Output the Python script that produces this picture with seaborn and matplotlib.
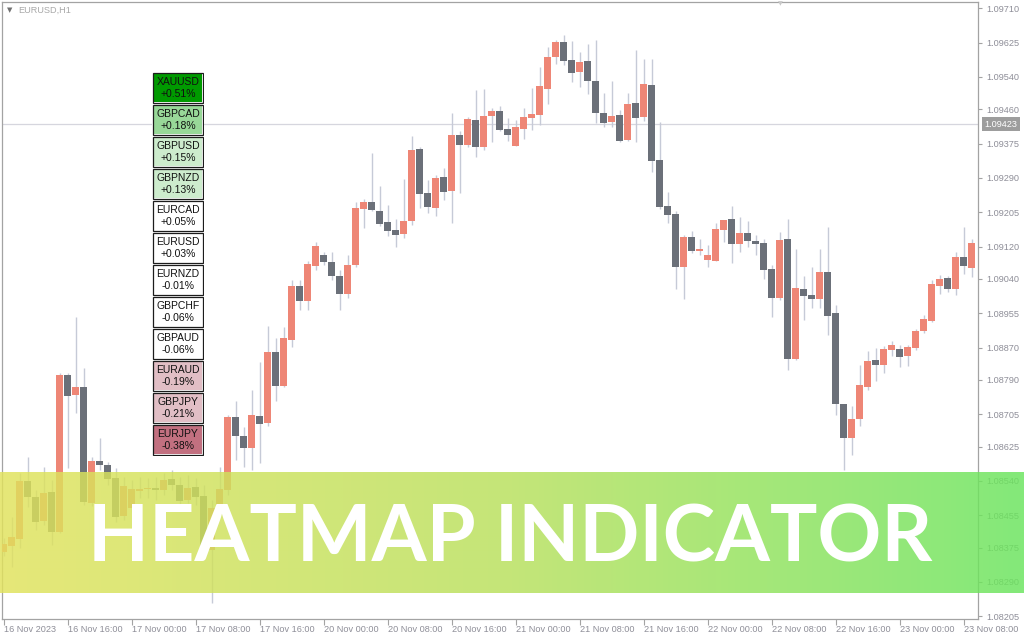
import numpy as np
import matplotlib
matplotlib.use("Agg")
import matplotlib.pyplot as plt
import seaborn as sns
from matplotlib.colors import ListedColormap, LinearSegmentedColormap
from matplotlib.patches import Rectangle
from matplotlib.transforms import blended_transform_factory

# ---------------- data (EURUSD, H1) ----------------
opens = [1.08364, 1.08379, 1.08396, 1.08540, 1.08500, 1.08441, 1.08512, 1.08413, 1.08802, 1.08753,
         1.08772, 1.08485, 1.08589, 1.08579, 1.08547, 1.08453, 1.08473, 1.08515, 1.08520, 1.08522,
         1.08517, 1.08545, 1.08530, 1.08493, 1.08525, 1.08503, 1.08369, 1.08473, 1.08517, 1.08698,
         1.08651, 1.08621, 1.08701, 1.08683, 1.08859, 1.08775, 1.08889, 1.09023, 1.08985, 1.09072,
         1.09099, 1.09082, 1.09047, 1.09003, 1.09075, 1.09213, 1.09230, 1.09208, 1.09181, 1.09161,
         1.09151, 1.09183, 1.09362, 1.09253, 1.09216, 1.09292, 1.09258, 1.09396, 1.09372, 1.09434,
         1.09367, 1.09443, 1.09456, 1.09411, 1.09369, 1.09411, 1.09438, 1.09446, 1.09510, 1.09590,
         1.09627, 1.09582, 1.09552, 1.09580, 1.09530, 1.09451, 1.09429, 1.09446, 1.09384, 1.09476,
         1.09441, 1.09520, 1.09334, 1.09221, 1.09201, 1.09070, 1.09144, 1.09109, 1.09087, 1.09084,
         1.09161, 1.09188, 1.09127, 1.09154, 1.09134, 1.09129, 1.09065, 1.08993, 1.09139, 1.08842,
         1.09015, 1.09000, 1.08990, 1.09057, 1.08956, 1.08730, 1.08646, 1.08693, 1.08772, 1.08839,
         1.08827, 1.08864, 1.08867, 1.08849, 1.08869, 1.08911, 1.08936, 1.09023, 1.09042, 1.09015,
         1.09094, 1.09067]
closes = [1.08384, 1.08401, 1.08540, 1.08500, 1.08438, 1.08510, 1.08413, 1.08802, 1.08750, 1.08772,
          1.08488, 1.08589, 1.08579, 1.08545, 1.08450, 1.08527, 1.08520, 1.08520, 1.08522, 1.08517,
          1.08542, 1.08530, 1.08490, 1.08522, 1.08500, 1.08369, 1.08473, 1.08520, 1.08698, 1.08651,
          1.08621, 1.08703, 1.08681, 1.08859, 1.08775, 1.08894, 1.09023, 1.08985, 1.09077, 1.09122,
          1.09082, 1.09047, 1.09003, 1.09075, 1.09216, 1.09230, 1.09211, 1.09176, 1.09159, 1.09149,
          1.09183, 1.09359, 1.09250, 1.09218, 1.09290, 1.09255, 1.09396, 1.09372, 1.09436, 1.09367,
          1.09443, 1.09456, 1.09409, 1.09396, 1.09416, 1.09441, 1.09448, 1.09518, 1.09590, 1.09627,
          1.09580, 1.09550, 1.09577, 1.09530, 1.09451, 1.09426, 1.09443, 1.09382, 1.09473, 1.09438,
          1.09523, 1.09332, 1.09218, 1.09198, 1.09070, 1.09144, 1.09109, 1.09114, 1.09099, 1.09164,
          1.09186, 1.09127, 1.09154, 1.09134, 1.09127, 1.09062, 1.08993, 1.09136, 1.08842, 1.09018,
          1.08998, 1.08990, 1.09057, 1.08948, 1.08730, 1.08646, 1.08693, 1.08777, 1.08837, 1.08827,
          1.08867, 1.08876, 1.08847, 1.08871, 1.08911, 1.08941, 1.09027, 1.09040, 1.09015, 1.09094,
          1.09072, 1.09129]
highs = [1.08398, 1.08450, 1.08560, 1.08599, 1.08517, 1.08574, 1.08542, 1.08807, 1.08807, 1.08946,
         1.08819, 1.08599, 1.08646, 1.08587, 1.08572, 1.08550, 1.08542, 1.08550, 1.08547, 1.08550,
         1.08560, 1.08567, 1.08550, 1.08555, 1.08547, 1.08530, 1.08493, 1.08574, 1.08703, 1.08738,
         1.08673, 1.08765, 1.08834, 1.08923, 1.08894, 1.08921, 1.09037, 1.09037, 1.09084, 1.09131,
         1.09107, 1.09107, 1.09062, 1.09099, 1.09230, 1.09238, 1.09352, 1.09270, 1.09223, 1.09188,
         1.09287, 1.09394, 1.09367, 1.09285, 1.09297, 1.09315, 1.09451, 1.09406, 1.09441, 1.09508,
         1.09510, 1.09463, 1.09468, 1.09438, 1.09434, 1.09463, 1.09513, 1.09565, 1.09614, 1.09632,
         1.09644, 1.09629, 1.09602, 1.09622, 1.09632, 1.09500, 1.09530, 1.09458, 1.09500, 1.09607,
         1.09585, 1.09585, 1.09429, 1.09255, 1.09208, 1.09149, 1.09159, 1.09139, 1.09124, 1.09179,
         1.09186, 1.09221, 1.09193, 1.09183, 1.09149, 1.09139, 1.09075, 1.09156, 1.09188, 1.09114,
         1.09047, 1.09070, 1.09114, 1.09169, 1.08975, 1.08730, 1.08725, 1.08827, 1.08862, 1.08869,
         1.08874, 1.08886, 1.08876, 1.08876, 1.08916, 1.08951, 1.09037, 1.09050, 1.09047, 1.09107,
         1.09169, 1.09139]
lows = [1.08354, 1.08327, 1.08374, 1.08475, 1.08418, 1.08431, 1.08381, 1.08411, 1.08572, 1.08708,
        1.08480, 1.08478, 1.08567, 1.08530, 1.08438, 1.08443, 1.08463, 1.08498, 1.08498, 1.08493,
        1.08505, 1.08517, 1.08475, 1.08485, 1.08480, 1.08344, 1.08238, 1.08463, 1.08505, 1.08592,
        1.08574, 1.08567, 1.08584, 1.08676, 1.08738, 1.08772, 1.08871, 1.08963, 1.08963, 1.09062,
        1.09075, 1.09037, 1.08963, 1.08993, 1.09070, 1.09166, 1.09208, 1.09171, 1.09146, 1.09119,
        1.09141, 1.09174, 1.09216, 1.09203, 1.09196, 1.09235, 1.09179, 1.09253, 1.09367, 1.09342,
        1.09359, 1.09379, 1.09407, 1.09382, 1.09369, 1.09386, 1.09409, 1.09421, 1.09473, 1.09572,
        1.09570, 1.09528, 1.09515, 1.09498, 1.09426, 1.09416, 1.09416, 1.09379, 1.09382, 1.09379,
        1.09431, 1.09305, 1.09213, 1.09179, 1.09015, 1.08990, 1.09104, 1.09099, 1.09070, 1.09084,
        1.09131, 1.09079, 1.09107, 1.09119, 1.09099, 1.09040, 1.08946, 1.08988, 1.08815, 1.08839,
        1.08938, 1.08968, 1.08968, 1.08901, 1.08703, 1.08567, 1.08604, 1.08676, 1.08765, 1.08787,
        1.08807, 1.08849, 1.08822, 1.08824, 1.08864, 1.08906, 1.08933, 1.09003, 1.09008, 1.09000,
        1.09052, 1.09045]

time_labels = ["16 Nov 2023", "16 Nov 16:00", "17 Nov 00:00", "17 Nov 08:00", "17 Nov 16:00",
               "20 Nov 00:00", "20 Nov 08:00", "20 Nov 16:00", "21 Nov 00:00", "21 Nov 08:00",
               "21 Nov 16:00", "22 Nov 00:00", "22 Nov 08:00", "22 Nov 16:00", "23 Nov 00:00",
               "23 Nov 08:00"]
price_ticks = [1.09710, 1.09625, 1.09540, 1.09460, 1.09375, 1.09290, 1.09205, 1.09120, 1.09040,
               1.08955, 1.08870, 1.08790, 1.08705, 1.08625, 1.08540, 1.08455, 1.08375, 1.08290,
               1.08205]
current_price = 1.09423
chart_title = "EURUSD,H1"

heat_symbols = ["XAUUSD", "GBPCAD", "GBPUSD", "GBPNZD", "EURCAD", "EURUSD",
                "EURNZD", "GBPCHF", "GBPAUD", "EURAUD", "GBPJPY", "EURJPY"]
heat_changes = [0.51, 0.18, 0.15, 0.13, 0.05, 0.03, -0.01, -0.06, -0.06, -0.19, -0.21, -0.38]
heat_colors = ["#009a00", "#98d898", "#cdeccd", "#cdeccd", "#ffffff", "#ffffff",
               "#ffffff", "#ffffff", "#ffffff", "#e1bec5", "#e1bec5", "#c27080"]
banner_text = "HEATMAP INDICATOR"

# ---------------- style ----------------
sns.set_theme(style="white")
plt.rcParams["font.family"] = ["Liberation Sans", "DejaVu Sans"]

W, H = 1024, 640
fig = plt.figure(figsize=(W / 100, H / 100), dpi=100)
fig.patch.set_facecolor("white")

def fx(px):
    return px / W

def fy(py):
    return 1 - py / H

# main chart axes: pixel x 2..978, y 2..619
ax = fig.add_axes([fx(2), fy(619), fx(976), (619 - 2) / H])
ax.set_facecolor("white")

x = np.arange(len(opens))
o = np.array(opens); c = np.array(closes); hi = np.array(highs); lo = np.array(lows)
up = c >= o
bull_col, bear_col, wick_col = "#ee8676", "#6b7079", "#c6cad7"

ax.vlines(x, lo, hi, color=wick_col, lw=1.0, zorder=2)
body_bottom = np.minimum(o, c)
body_h = np.maximum(np.abs(c - o), 0.000025)
ax.bar(x, body_h, bottom=body_bottom, width=0.875,
       color=np.where(up, bull_col, bear_col), linewidth=0, zorder=3)

ax.axhline(current_price, color="#d6d6de", lw=0.9, zorder=1)

ax.set_xlim((2 - 3.5) / 8, (978 - 3.5) / 8)
ax.set_ylim(1.081980, 1.097256)

for s in ax.spines.values():
    s.set_color("#a3a3a3")
    s.set_linewidth(0.9)

ax.yaxis.tick_right()
ax.set_yticks(price_ticks)
ax.set_yticklabels([f"{p:.5f}" for p in price_ticks])
ax.tick_params(axis="y", right=True, left=False, length=3, width=0.8, color="#a3a3a3",
               labelsize=6.6, labelcolor="#8e8e98", pad=3)
ax.set_xticks(np.arange(0, 8 * len(time_labels), 8))
ax.set_xticklabels(time_labels)
ax.tick_params(axis="x", bottom=True, length=4, width=0.8, color="#a3a3a3",
               labelsize=6.6, labelcolor="#8e8e98", pad=0.5)
for lab in ax.get_xticklabels():
    lab.set_ha("left")

# current price label on the axis
trans = blended_transform_factory(ax.transAxes, ax.transData)
ax.text(1.0068, current_price, f"{current_price:.5f}", transform=trans, ha="left", va="center",
        fontsize=6.6, color="white", clip_on=False, zorder=10,
        bbox=dict(boxstyle="square,pad=0.3", fc="#9d9d9d", ec="none"))

# title
fig.text(fx(7), fy(10), "\u25bc", fontsize=5, color="#707070", family="DejaVu Sans",
         va="center", ha="left")
fig.text(fx(18), fy(10), chart_title, fontsize=6.6, color="#a8a8a8", va="center", ha="left")
fig.text(fx(780), fy(4), "\u25bc", fontsize=4.5, color="#c8c8c8", family="DejaVu Sans",
         va="center", ha="center")

# ---------------- heatmap panel ----------------
hax = fig.add_axes([fx(152), fy(456), fx(52), 384 / H])
codes = np.arange(len(heat_symbols)).reshape(-1, 1)
annot = np.array([f"{s}\n{v:+.2f}%" for s, v in zip(heat_symbols, heat_changes)]).reshape(-1, 1)
sns.heatmap(codes, ax=hax, cmap=ListedColormap(heat_colors), vmin=-0.5,
            vmax=len(heat_colors) - 0.5, cbar=False, annot=annot, fmt="",
            linewidths=1.5, linecolor="white",
            annot_kws=dict(fontsize=7.5, color="#111111", linespacing=1.15),
            xticklabels=False, yticklabels=False)
for r in range(len(heat_symbols)):
    hax.add_patch(Rectangle((1.2 / 52, r + 1.2 / 32), 49.6 / 52, 29.6 / 32, fill=False,
                            ec="#1c1c1c", lw=0.9, zorder=5))
for t in hax.texts:
    t.set_color("#111111")

# ---------------- banner ----------------
bax = fig.add_axes([0, fy(593), 1, 121 / H], zorder=20)
bax.set_xlim(0, 1); bax.set_ylim(0, 1)
grad = np.linspace(0, 1, 512).reshape(1, -1)
bcmap = LinearSegmentedColormap.from_list("banner", ["#e1e35c", "#b8e05c", "#6ae55e"])
bax.imshow(grad, aspect="auto", extent=[0, 1, 0, 1], cmap=bcmap, alpha=0.83,
           interpolation="bilinear")
bax.axis("off")
bax.text(0.498, (593 - 562) / 121, banner_text, ha="center", va="baseline",
         fontsize=57, color="white", family="Lato", fontweight="bold")

fig.savefig("out.png", dpi=100, facecolor="white")
